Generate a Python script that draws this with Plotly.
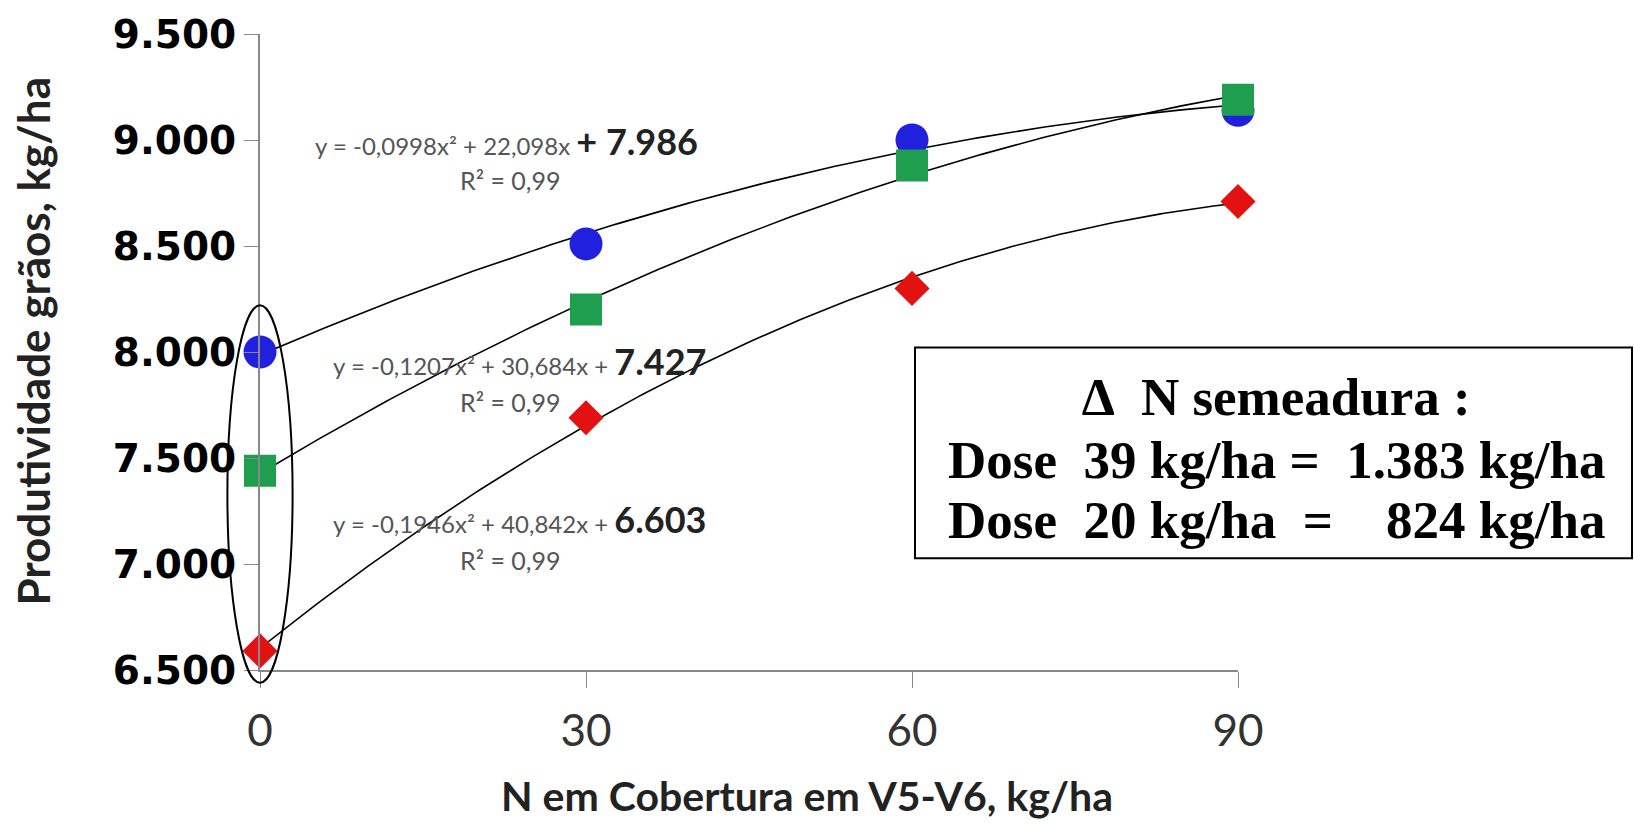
import plotly.graph_objects as go
import numpy as np

# ---- data ----
n_doses = [0, 30, 60, 90]
blue_vals = [8000, 8510, 9000, 9140]
green_vals = [7440, 8200, 8880, 9190]
red_vals = [6590, 7690, 8300, 8710]

# trendline coefficients (a, b, c) as printed on the chart
blue_coef = [-0.0998, 22.098, 7986]
green_coef = [-0.1207, 30.684, 7427]
red_coef = [-0.1946, 40.842, 6603]

y_ticks = [6500, 7000, 7500, 8000, 8500, 9000, 9500]
y_tick_text = ["6.500", "7.000", "7.500", "8.000", "8.500", "9.000", "9.500"]
x_ticks = [0, 30, 60, 90]

W, H = 1634, 825
ML, MR, MT, MB = 260, 396, 27, 155
XR = [0, 90]
YR = [6500, 9500]
PW, PH = W - ML - MR, H - MT - MB

fig = go.Figure()

xs = np.linspace(0, 90, 200)
for coef in (blue_coef, green_coef, red_coef):
    a, b, c = coef
    fig.add_trace(go.Scatter(x=xs, y=a * xs**2 + b * xs + c, mode="lines",
                             line=dict(color="black", width=1.6),
                             hoverinfo="skip", showlegend=False))

fig.add_trace(go.Scatter(x=n_doses, y=blue_vals, mode="markers",
                         marker=dict(symbol="circle", size=33, color="#2020dd"),
                         cliponaxis=False, showlegend=False))
fig.add_trace(go.Scatter(x=n_doses, y=green_vals, mode="markers",
                         marker=dict(symbol="square", size=32, color="#1f9e4f"),
                         cliponaxis=False, showlegend=False))
fig.add_trace(go.Scatter(x=n_doses, y=red_vals, mode="markers",
                         marker=dict(symbol="diamond", size=27, color="#e21212"),
                         cliponaxis=False, showlegend=False))

# data -> paper (plot-area relative)
def xp(x):
    return (x - XR[0]) / (XR[1] - XR[0])

def yp(y):
    return (y - YR[0]) / (YR[1] - YR[0])

# pixel -> paper
def pxp(px):
    return (px - ML) / PW

def pyp(py):
    return (H - MB - py) / PH

# ellipse around x = 0 points
fig.add_shape(type="circle", xref="paper", yref="paper",
              x0=xp(-3), x1=xp(3), y0=yp(6440), y1=yp(8220),
              line=dict(color="black", width=2), layer="above")

eq_font = "Lato, Liberation Sans, sans-serif"
small = 'font-size:24px;color:#555555'
big = 'font-size:36px;color:#222222'

def eq(text_small, plus_big, big_txt, x, y):
    if plus_big:
        t = f'<span style="{small}">{text_small}</span><span style="{big}"><b>+ {big_txt}</b></span>'
    else:
        t = f'<span style="{small}">{text_small}+ </span><span style="{big}"><b>{big_txt}</b></span>'
    fig.add_annotation(x=pxp(x), y=pyp(y), xref="paper", yref="paper", xanchor="left",
                       yanchor="middle", text=t, showarrow=False, font=dict(family=eq_font))

eq("y = -0,0998x² + 22,098x\u00a0", True, "7.986", 313, 135)
eq("y = -0,1207x² + 30,684x\u00a0", False, "7.427", 331, 358)
eq("y = -0,1946x² + 40,842x\u00a0", False, "6.603", 331, 517)
for yy in (175, 399, 559):
    fig.add_annotation(x=pxp(510), y=pyp(yy), xref="paper", yref="paper", xanchor="center",
                       yanchor="middle", text="R² = 0,99", showarrow=False,
                       font=dict(family=eq_font, size=25, color="#555555"))

# box
fig.add_shape(type="rect", xref="paper", yref="paper",
              x0=pxp(915), x1=pxp(1632), y0=pyp(557), y1=pyp(344),
              line=dict(color="black", width=2), fillcolor="white", layer="above")
box_font = dict(family="Liberation Serif, Times New Roman, serif", size=53, color="black")
nb = "\u00a0"
lines = [
    ("<b>∆" + nb * 2 + "N semeadura :</b>", 394),
    ("<b>Dose" + nb * 2 + "39 kg/ha =" + nb * 2 + "1.383 kg/ha</b>", 458),
    ("<b>Dose" + nb * 2 + "20 kg/ha" + nb * 2 + "=" + nb * 4 + "824 kg/ha</b>", 518),
]
for txt, yy in lines:
    fig.add_annotation(x=pxp(1276), y=pyp(yy), xref="paper", yref="paper", xanchor="center",
                       yanchor="middle", text=txt, showarrow=False, font=box_font)

# axis titles
fig.add_annotation(x=pxp(807), y=pyp(797), xref="paper", yref="paper", xanchor="center",
                   yanchor="middle", text="<b>N em Cobertura em V5-V6, kg/ha</b>", showarrow=False,
                   font=dict(family=eq_font, size=41, color="#222222"))
fig.add_annotation(x=pxp(33), y=pyp(338), xref="paper", yref="paper", xanchor="center",
                   yanchor="middle", text="<b>Produtividade grãos, kg/ha</b>", showarrow=False,
                   textangle=-90, font=dict(family=eq_font, size=44, color="#222222"))

fig.update_xaxes(range=XR, tickmode="array", tickvals=x_ticks, ticks="outside", ticklen=16,
                 tickcolor="#888888", showline=True, linecolor="#888888", linewidth=2,
                 showgrid=False, zeroline=False, ticklabelstandoff=5,
                 tickfont=dict(family=eq_font, size=44, color="#333333"))
fig.update_yaxes(range=YR, tickmode="array", tickvals=y_ticks, ticktext=y_tick_text,
                 ticks="outside", ticklen=14, tickcolor="#888888", showline=True,
                 linecolor="#888888", linewidth=2, showgrid=False, zeroline=False,
                 tickfont=dict(family="DejaVu Sans, Verdana, sans-serif", size=39, color="black",
                               weight="bold"))

fig.update_layout(width=W, height=H, margin=dict(l=ML, r=MR, t=MT, b=MB),
                  plot_bgcolor="white", paper_bgcolor="white", showlegend=False)

fig.write_html("out.html")
